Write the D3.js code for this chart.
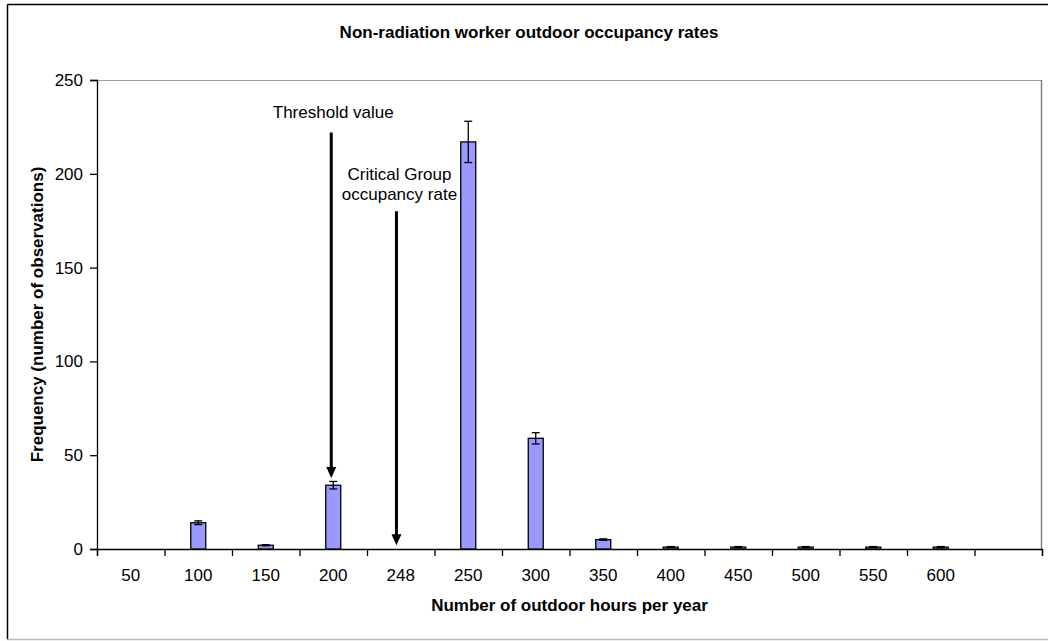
<!DOCTYPE html>
<html>
<head>
<meta charset="utf-8">
<script src="https://cdn.jsdelivr.net/npm/d3@7/dist/d3.min.js"></script>
<style>
  html, body { margin: 0; padding: 0; background: #fff; }
  svg { display: block; font-family: Arial, "Liberation Sans", sans-serif; }
</style>
</head>
<body>
<svg id="chart" width="1048" height="641"></svg>
<script>
// ---- data ----
const categories = ["50","100","150","200","248","250","300","350","400","450","500","550","600",""];
const frequency  = [0, 14, 2, 34, 0, 217, 59, 5, 1, 1, 1, 1, 1, null];
const errorSize  = [0, 1, 0.3, 2, 0, 11, 3, 0.4, 0.3, 0.3, 0.3, 0.3, 0.3, null];
const yTicks = [0, 50, 100, 150, 200, 250];
const annotationCategory = ["200", "248"];
const annotationTop = [222, 180];
const annotationTip = [37.8, 2];
const annotationText = [["Threshold value"], ["Critical Group", "occupancy rate"]];
const titleText = "Non-radiation worker outdoor occupancy rates";
const xTitle = "Number of outdoor hours per year";
const yTitle = "Frequency (number of observations)";

// ---- layout ----
const svg = d3.select("#chart");
const L = 97, R = 1042, T = 80, B = 549;

// outer frame
svg.append("line").attr("x1", 7.5).attr("x2", 1048).attr("y1", 4.5).attr("y2", 4.5)
  .attr("stroke", "#000").attr("stroke-width", 1.5);
svg.append("line").attr("x1", 7.5).attr("x2", 7.5).attr("y1", 4.5).attr("y2", 639.5)
  .attr("stroke", "#000").attr("stroke-width", 1.5);
svg.append("line").attr("x1", 7.5).attr("x2", 1048).attr("y1", 639.5).attr("y2", 639.5)
  .attr("stroke", "#b8b8b8").attr("stroke-width", 1.5);

const x = d3.scaleBand().domain(d3.range(categories.length)).range([L, R]).paddingInner(0).paddingOuter(0);
const y = d3.scaleLinear().domain([0, 250]).range([B, T]);
const bw = x.bandwidth();
const barW = bw * 0.222;

// plot area border (top & right)
svg.append("line").attr("x1", L).attr("x2", R).attr("y1", T + 0.5).attr("y2", T + 0.5)
  .attr("stroke", "#a0a0a0").attr("stroke-width", 1);
svg.append("line").attr("x1", R - 0.5).attr("x2", R - 0.5).attr("y1", T).attr("y2", B)
  .attr("stroke", "#808080").attr("stroke-width", 1.5);

// title
svg.append("text").attr("x", 529).attr("y", 38).attr("text-anchor", "middle")
  .attr("font-size", 17).attr("font-weight", "bold").text(titleText);

// y axis
const yAxis = d3.axisLeft(y).tickValues(yTicks).tickSize(7).tickPadding(7).tickFormat(d3.format("d"));
const gy = svg.append("g").attr("transform", `translate(${L},0)`).call(yAxis);
gy.select(".domain").attr("stroke", "#000").attr("stroke-width", 1.3);
gy.selectAll(".tick line").attr("stroke", "#000").attr("stroke-width", 1.3);
gy.selectAll(".tick text").attr("font-size", 17).attr("font-family", "Arial, 'Liberation Sans', sans-serif").attr("fill", "#000");

// x axis: ticks at category boundaries, labels at centres
const xb = d3.scaleLinear().domain([0, categories.length]).range([L, R]);
const gxTicks = svg.append("g").attr("transform", `translate(0,${B})`)
  .call(d3.axisBottom(xb).tickValues(d3.range(categories.length + 1)).tickSize(7).tickFormat(""));
gxTicks.select(".domain").attr("stroke", "#000").attr("stroke-width", 1.3);
gxTicks.selectAll(".tick line").attr("stroke", "#000").attr("stroke-width", 1.3);
const gxLabels = svg.append("g").attr("transform", `translate(0,${B})`)
  .call(d3.axisBottom(x).tickSize(0).tickPadding(20).tickFormat(i => categories[i]));
gxLabels.select(".domain").remove();
gxLabels.selectAll(".tick text").attr("font-size", 17).attr("font-family", "Arial, 'Liberation Sans', sans-serif").attr("fill", "#000");

// axis titles
svg.append("text").attr("x", (L + R) / 2).attr("y", 611).attr("text-anchor", "middle")
  .attr("font-size", 17).attr("font-weight", "bold").text(xTitle);
svg.append("text").attr("transform", `translate(43,${(T + B) / 2}) rotate(-90)`).attr("text-anchor", "middle")
  .attr("font-size", 17).attr("font-weight", "bold").text(yTitle);

// bars
const data = categories.map((c, i) => ({ i, c, v: frequency[i], e: errorSize[i] }))
  .filter(d => d.v != null && d.v > 0);
svg.append("g").selectAll("rect").data(data).join("rect")
  .attr("x", d => x(d.i) + bw / 2 - barW / 2)
  .attr("y", d => y(d.v))
  .attr("width", barW)
  .attr("height", d => y(0) - y(d.v))
  .attr("fill", "#9999FF").attr("stroke", "#000").attr("stroke-width", 1.3);

// error bars
const eg = svg.append("g").attr("stroke", "#000").attr("stroke-width", 1.3);
data.forEach(d => {
  const cx = x(d.i) + bw / 2;
  const y1 = y(d.v + d.e), y2 = y(Math.max(0, d.v - d.e));
  eg.append("line").attr("x1", cx).attr("x2", cx).attr("y1", y1).attr("y2", y2);
  eg.append("line").attr("x1", cx - 4).attr("x2", cx + 4).attr("y1", y1).attr("y2", y1);
  eg.append("line").attr("x1", cx - 4).attr("x2", cx + 4).attr("y1", y2).attr("y2", y2);
});

// annotation arrows
const arrowOffset = [-2, -4.3];
annotationCategory.forEach((c, k) => {
  const i = categories.indexOf(c);
  const ax = x(i) + bw / 2 + arrowOffset[k];
  const yTop = y(annotationTop[k]);
  const yTip = y(annotationTip[k]);
  svg.append("line").attr("x1", ax).attr("x2", ax).attr("y1", yTop).attr("y2", yTip - 8)
    .attr("stroke", "#000").attr("stroke-width", 3);
  svg.append("path")
    .attr("d", `M${ax - 5},${yTip - 11} L${ax + 5},${yTip - 11} L${ax},${yTip} Z`)
    .attr("fill", "#000");
  const lines = annotationText[k];
  lines.forEach((t, j) => {
    svg.append("text")
      .attr("x", ax + 2 + (k === 1 ? 1 : 0))
      .attr("y", yTop - 15 - (lines.length - 1 - j) * 20.5 + (k === 1 ? 4 : 0))
      .attr("text-anchor", "middle").attr("font-size", 17).attr("fill", "#000").text(t);
  });
});
</script>
</body>
</html>
